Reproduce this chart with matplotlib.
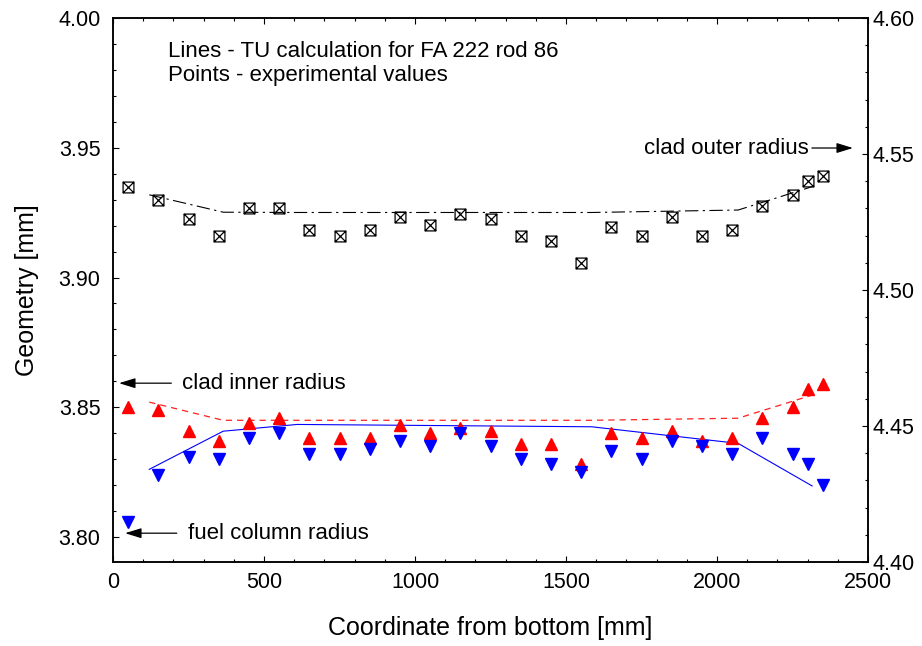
import matplotlib
matplotlib.use("Agg")
import matplotlib.pyplot as plt
from matplotlib.path import Path
from matplotlib.ticker import MultipleLocator, FormatStrFormatter

plt.rcParams['font.family'] = ['Liberation Sans', 'DejaVu Sans']

# ---- data ----
x_exp = [50, 150, 250, 350, 450, 550, 650, 750, 850, 950, 1050, 1150, 1250,
         1350, 1450, 1550, 1650, 1750, 1850, 1950, 2050, 2150, 2250, 2300, 2350]
clad_outer_exp = [4.538, 4.533, 4.526, 4.520, 4.530, 4.530, 4.522, 4.520, 4.522,
                  4.527, 4.524, 4.528, 4.526, 4.520, 4.518, 4.510, 4.523, 4.520,
                  4.527, 4.520, 4.522, 4.531, 4.535, 4.540, 4.542]
clad_inner_exp = [3.850, 3.849, 3.841, 3.837, 3.844, 3.846, 3.838, 3.838, 3.838,
                  3.843, 3.840, 3.842, 3.841, 3.836, 3.836, 3.828, 3.840, 3.838,
                  3.841, 3.837, 3.838, 3.846, 3.850, 3.857, 3.859]
fuel_exp = [3.806, 3.824, 3.831, 3.830, 3.838, 3.840, 3.832, 3.832, 3.834,
            3.837, 3.835, 3.840, 3.835, 3.830, 3.828, 3.825, 3.833, 3.830,
            3.837, 3.835, 3.832, 3.838, 3.832, 3.828, 3.820]

x_calc = [120, 365, 610, 1585, 2070, 2315]
clad_outer_calc = [4.5350, 4.5286, 4.5285, 4.5285, 4.5294, 4.5380]
clad_inner_calc = [3.8520, 3.8450, 3.8450, 3.8450, 3.8458, 3.8547]
fuel_calc = [3.8261, 3.8408, 3.8434, 3.8425, 3.8361, 3.8197]

# ---- figure ----
fig = plt.figure(figsize=(9.22, 6.46), dpi=100)
L, R, T, B = 113, 868, 18, 562
ax = fig.add_axes([L / 922, 1 - B / 646, (R - L) / 922, (B - T) / 646])
ax2 = ax.twinx()

# box with cross marker
box_x = Path([(-1, -1), (1, -1), (1, 1), (-1, 1), (-1, -1),
              (-1, -1), (1, 1), (-1, 1), (1, -1)],
             [Path.MOVETO, Path.LINETO, Path.LINETO, Path.LINETO, Path.CLOSEPOLY,
              Path.MOVETO, Path.LINETO, Path.MOVETO, Path.LINETO])

ax.plot(x_calc, clad_inner_calc, color='#ff2020', lw=0.9, ls=(0, (5, 4)))
ax.plot(x_calc, fuel_calc, color='#0000ff', lw=0.8)
ax.plot(x_exp, clad_inner_exp, ls='none', marker='^', ms=9, color='#ff0000',
        mec='#ff0000')
ax.plot(x_exp, fuel_exp, ls='none', marker='v', ms=9, color='#0000ff',
        mec='#0000ff')

ax2.plot(x_calc, clad_outer_calc, color='black', lw=0.8, ls=(0, (12, 4, 2, 4)))
ax2.plot(x_exp, clad_outer_exp, ls='none', marker=box_x, ms=7.8, mfc='none',
         mec='black', mew=0.9)

ax.set_xlim(0, 2500)
ax.set_ylim(3.7904, 4.00)
ax2.set_ylim(4.40, 4.60)

ax.xaxis.set_major_locator(MultipleLocator(500))
ax.xaxis.set_minor_locator(MultipleLocator(100))
ax.yaxis.set_major_locator(MultipleLocator(0.05))
ax.yaxis.set_minor_locator(MultipleLocator(0.01))
ax.yaxis.set_major_formatter(FormatStrFormatter('%.2f'))
ax2.yaxis.set_major_locator(MultipleLocator(0.05))
ax2.yaxis.set_minor_locator(MultipleLocator(0.01))
ax2.yaxis.set_major_formatter(FormatStrFormatter('%.2f'))

for a in (ax, ax2):
    for s in a.spines.values():
        s.set_linewidth(1.1)

ax.tick_params(axis='x', which='both', direction='in', top=True, labelsize=15.5,
               pad=7, width=0.8)
ax.tick_params(axis='x', which='major', length=4)
ax.tick_params(axis='x', which='minor', length=2.5)
ax.tick_params(axis='y', which='both', direction='in', right=False, labelsize=15.5,
               pad=9, width=0.8)
ax.tick_params(axis='y', which='major', length=4)
ax.tick_params(axis='y', which='minor', length=2.5)
ax2.tick_params(axis='y', which='both', direction='in', labelsize=15.5, pad=3,
                width=0.8)
ax2.tick_params(axis='y', which='major', length=4)
ax2.tick_params(axis='y', which='minor', length=2.5)

ax.set_xlabel('Coordinate from bottom [mm]', fontsize=18, labelpad=17)
ax.set_ylabel('Geometry [mm]', fontsize=18, labelpad=14)

ax.text(0.073, 0.958, 'Lines - TU calculation for FA 222 rod 86\nPoints - experimental values',
        transform=ax.transAxes, fontsize=16, va='top', ha='left', linespacing=1.2)

arrow = dict(arrowstyle='-|>,head_length=0.55,head_width=0.17', color='black',
             lw=0.9, mutation_scale=18, shrinkA=0, shrinkB=0)
ax2.annotate('clad outer radius', xy=(2450, 4.5522), xytext=(2305, 4.5522),
             fontsize=16, ha='right', va='center', arrowprops=arrow)
arrow_l = dict(arrow, shrinkA=6)
ax.annotate('clad inner radius', xy=(20, 3.8593), xytext=(230, 3.8593),
             fontsize=16, ha='left', va='center', arrowprops=arrow_l)
ax.annotate('fuel column radius', xy=(40, 3.8015), xytext=(248, 3.8015),
             fontsize=16, ha='left', va='center', arrowprops=arrow_l)

fig.savefig('out.png', dpi=100)
